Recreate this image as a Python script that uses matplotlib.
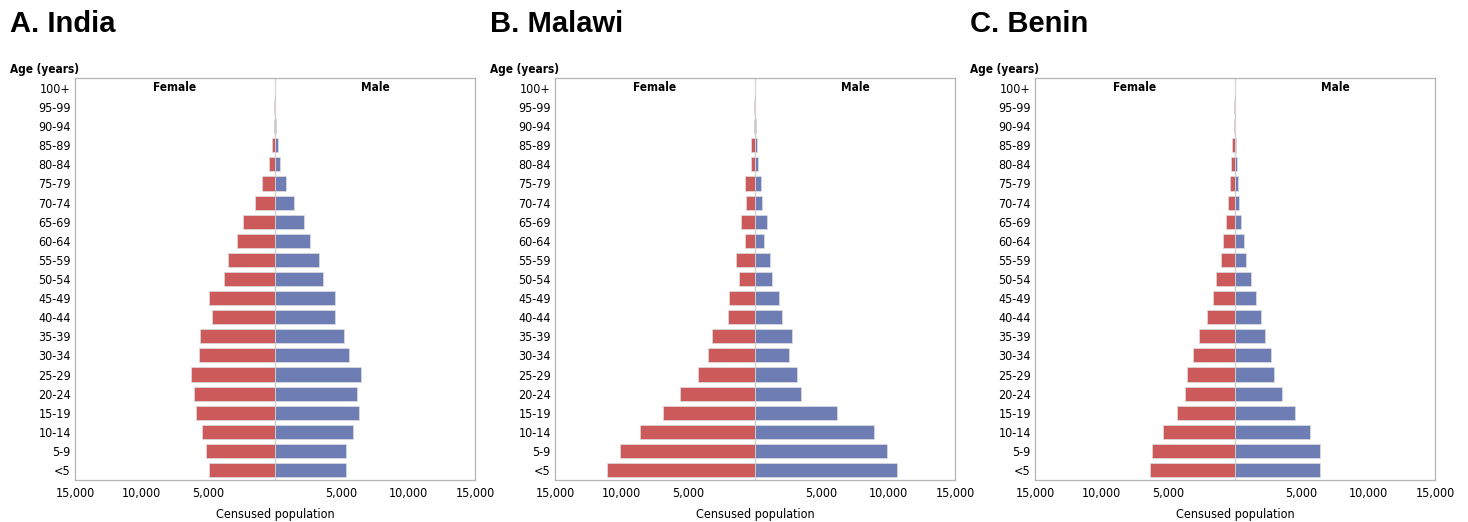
import numpy as np
import matplotlib.pyplot as plt
from matplotlib.ticker import FuncFormatter

ages = ['<5', '5-9', '10-14', '15-19', '20-24', '25-29', '30-34', '35-39', '40-44', '45-49',
        '50-54', '55-59', '60-64', '65-69', '70-74', '75-79', '80-84', '85-89', '90-94',
        '95-99', '100+']

india_female = [4925, 5150, 5450, 5900, 6075, 6325, 5675, 5650, 4725, 4950, 3825, 3550,
                2850, 2425, 1500, 975, 450, 250, 100, 40, 15]
india_male = [5300, 5350, 5875, 6325, 6175, 6425, 5575, 5175, 4475, 4475, 3575, 3300,
              2650, 2200, 1450, 850, 400, 200, 50, 20, 10]

malawi_female = [11100, 10125, 8650, 6925, 5600, 4250, 3500, 3250, 2025, 1925, 1225, 1425,
                 775, 1075, 675, 775, 325, 300, 100, 75, 25]
malawi_male = [10675, 9875, 8900, 6125, 3425, 3125, 2575, 2750, 2000, 1800, 1250, 1150,
               675, 875, 500, 450, 225, 175, 50, 25, 15]

benin_female = [6400, 6250, 5375, 4375, 3775, 3600, 3150, 2675, 2100, 1650, 1450, 1050,
                900, 650, 525, 375, 275, 200, 100, 60, 25]
benin_male = [6375, 6400, 5625, 4525, 3525, 2925, 2700, 2275, 1975, 1575, 1225, 825,
              650, 475, 300, 200, 150, 75, 25, 15, 10]

panels = [('A. India', india_female, india_male),
          ('B. Malawi', malawi_female, malawi_male),
          ('C. Benin', benin_female, benin_male)]

xticks = [-15000, -10000, -5000, 5000, 10000, 15000]

W, H = 1468, 522
fig = plt.figure(figsize=(W / 100, H / 100), dpi=100)

small = dict(family=['DejaVu Sans'], fontstretch='condensed')
female_col = '#cd5a5a'
male_col = '#6e7eb5'

y = np.arange(len(ages))
for i, (title, fem, mal) in enumerate(panels):
    x0 = 75 + i * 480
    ax = fig.add_axes([x0 / W, (H - 480) / H, 400 / W, 402 / H])
    ax.axvline(0, color='#cfcfcf', lw=1, zorder=0)
    ax.barh(y, -np.array(fem), height=0.74, color=female_col, edgecolor='#dedede', linewidth=0.5)
    ax.barh(y, mal, height=0.74, color=male_col, edgecolor='#dedede', linewidth=0.5)
    ax.set_xlim(-15000, 15000)
    ax.set_ylim(-0.52, len(ages) - 0.48)
    ax.set_yticks(y)
    ax.set_yticklabels(ages, fontsize=9, **small)
    ax.set_xticks(xticks)
    ax.xaxis.set_major_formatter(FuncFormatter(lambda v, p: f'{abs(int(v)):,}'))
    for lab in ax.get_xticklabels():
        lab.set_family('DejaVu Sans')
        lab.set_stretch('condensed')
        lab.set_fontsize(9)
    ax.tick_params(axis='y', length=0, pad=3)
    ax.tick_params(axis='x', length=0, pad=5)
    for s in ax.spines.values():
        s.set_color('#b5b5b5')
        s.set_linewidth(0.9)
    ax.set_xlabel('Censused population', fontsize=9, labelpad=6, **small)
    ax.text(-7500, 20, 'Female', ha='center', va='center', fontsize=8.5, fontweight='bold', **small)
    ax.text(7500, 20, 'Male', ha='center', va='center', fontsize=8.5, fontweight='bold', **small)
    fig.text((x0 - 65) / W, 1 - 24 / H, title, fontsize=21, fontweight='bold',
             family=['Liberation Sans', 'DejaVu Sans'], ha='left', va='center')
    fig.text((x0 - 65) / W, 1 - 70 / H, 'Age (years)', fontsize=8.5, fontweight='bold',
             ha='left', va='center', **small)

fig.savefig('out.png', dpi=100)
